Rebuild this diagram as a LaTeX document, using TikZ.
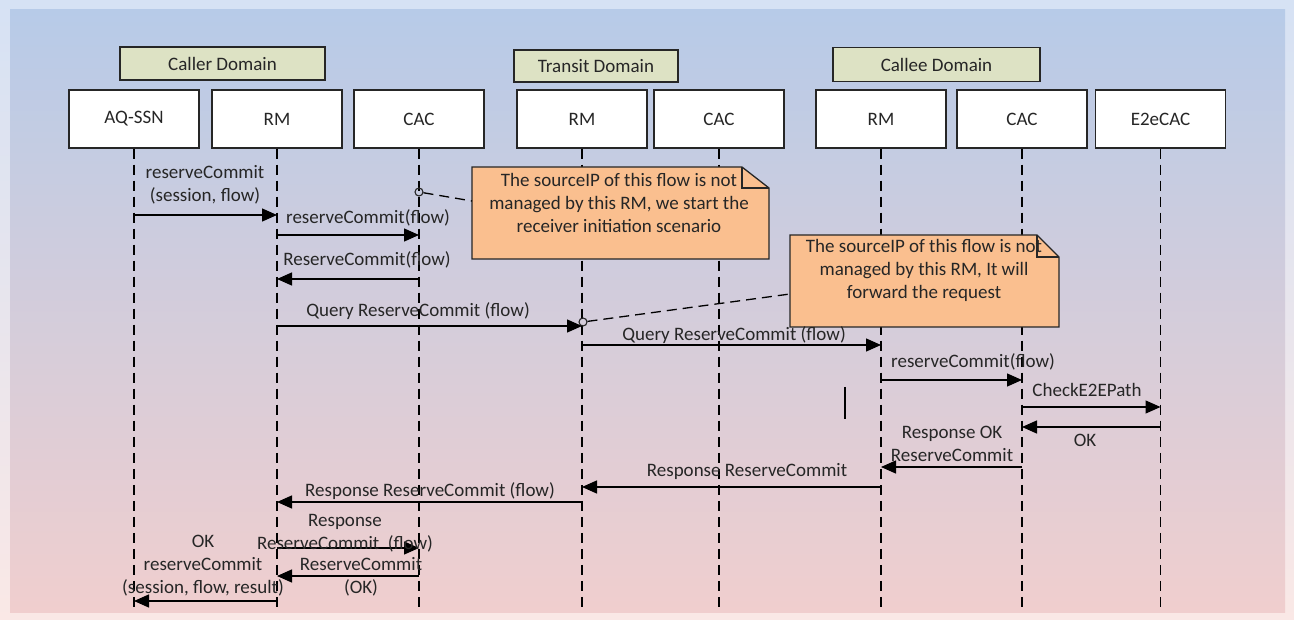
\documentclass[tikz,border=0pt]{standalone}
\usepackage{fontspec}
\setmainfont{Carlito}
\usepackage{tikz}
\usetikzlibrary{
    arrows.meta,
    positioning
}
\definecolor{domainfill}{RGB}{221,226,196}
\definecolor{notefill}{RGB}{250,191,143}
\definecolor{bgtop}{RGB}{183,203,232}
\definecolor{bgmid}{RGB}{210,208,226}
\definecolor{bgbot}{RGB}{240,206,206}
\definecolor{frametop}{RGB}{214,226,244}
\definecolor{framebot}{RGB}{250,232,230}
\tikzset{
    every node/.style={font=\fontsize{19}{23}\selectfont, text=black!85},
    domainbox/.style={draw=black!85, line width=1.5pt, fill=domainfill, inner sep=0pt},
    headbox/.style={draw=black!85, line width=1.5pt, fill=white, minimum width=130pt, minimum height=58pt, inner sep=0pt},
    lifeline/.style={line width=1.4pt, dash pattern=on 10pt off 6pt},
    msg/.style={line width=1.4pt, -{Triangle[length=15pt, width=13pt]}},
    notebox/.style={draw=black!85, line width=1.3pt, fill=notefill, line join=miter},
    pinline/.style={line width=1.3pt, dash pattern=on 10pt off 6pt},
    pin/.style={circle, draw=black!85, line width=1.1pt, inner sep=0pt, minimum size=8pt},
    lbl/.style={align=center, inner sep=0pt}
}

\begin{document}
\begin{tikzpicture}[x=1pt, y=-1pt]
    \useasboundingbox (0,0) rectangle (1294,620);
    % background
    \shade[top color=frametop, bottom color=framebot] (0,0) rectangle (1294,620);
    \shade[top color=bgtop, middle color=bgmid, bottom color=bgbot] (10,10) rectangle (1285,612);

    % domains
    \node[domainbox, minimum width=205pt, minimum height=33pt] (callerdom) at (222.5,63.5) {Caller Domain};
    \node[domainbox, minimum width=164pt, minimum height=32pt] (transitdom) at (596,66) {Transit Domain};
    \node[domainbox, minimum width=207pt, minimum height=34pt] (calleedom) at (936.5,64.5) {Callee Domain};

    % lifeline heads
    \node[headbox] (aqssn) at (134,119) {AQ-SSN};
    \node[headbox] (callerrm) at (277,119) {RM};
    \node[headbox] (callercac) at (419,119) {CAC};
    \node[headbox] (transitrm) at (582,119) {RM};
    \node[headbox] (transitcac) at (719,119) {CAC};
    \node[headbox] (calleerm) at (881,119) {RM};
    \node[headbox] (calleecac) at (1022,119) {CAC};
    \node[headbox] (e2ecac) at (1160.5,119) {E2eCAC};

    \coordinate (bottom) at (0,612);
    \foreach \h in {aqssn, callerrm, callercac, transitrm, transitcac, calleerm, calleecac, e2ecac}
        \draw[lifeline] (\h.south) -- (\h |- bottom);

    % notes
    \coordinate (n1nw) at (472,167);
    \coordinate (n1ne) at (769,167);
    \coordinate (n1se) at (769,259);
    \coordinate (n1sw) at (472,259);
    \filldraw[notebox] (n1sw) -- (n1nw) -- ([xshift=-27pt]n1ne) -- ([yshift=-21pt]n1ne) -- (n1se) -- cycle;
    \draw[notebox, fill=none] ([xshift=-27pt]n1ne) -- ([xshift=-27pt, yshift=-21pt]n1ne) -- ([yshift=-21pt]n1ne);
    \node[lbl] (note1) at (619,203) {The sourceIP of this flow is not\\managed by this RM, we start the\\receiver initiation scenario};

    \coordinate (n2nw) at (790,235);
    \coordinate (n2ne) at (1059,235);
    \coordinate (n2se) at (1059,327);
    \coordinate (n2sw) at (790,327);
    \filldraw[notebox] (n2sw) -- (n2nw) -- ([xshift=-22pt]n2ne) -- ([yshift=-22pt]n2ne) -- (n2se) -- cycle;
    \draw[notebox, fill=none] ([xshift=-22pt]n2ne) -- ([xshift=-22pt, yshift=-22pt]n2ne) -- ([yshift=-22pt]n2ne);
    \node[lbl] (note2) at (924,270) {The sourceIP of this flow is not\\managed by this RM, It will\\forward the request};

    \node[pin] (pin1) at (419,192) {};
    \node[pin] (pin2) at (583,322) {};
    \coordinate (n1pin) at (472,201);
    \coordinate (n2pin) at (790,294);
    \draw[pinline] (pin1) -- (n1pin);
    \draw[pinline] (pin2) -- (n2pin);

    % message rows
    \foreach \y [count=\i] in {215,235,279,326,345,380,407,427,467,487,502,548,576,601}
        \coordinate (r\i) at (0,\y);

    \draw[msg] (aqssn |- r1) -- (callerrm |- r1);
    \draw[msg] (callerrm |- r2) -- (callercac |- r2);
    \draw[msg] (callercac |- r3) -- (callerrm |- r3);
    \draw[msg] (callerrm |- r4) -- (transitrm |- r4);
    \draw[msg] (transitrm |- r5) -- (calleerm |- r5);
    \draw[msg] (calleerm |- r6) -- (calleecac |- r6);
    \draw[msg] (calleecac |- r7) -- (e2ecac |- r7);
    \draw[msg] (e2ecac |- r8) -- (calleecac |- r8);
    \draw[msg] (calleecac |- r9) -- (calleerm |- r9);
    \draw[msg] (calleerm |- r10) -- (transitrm |- r10);
    \draw[msg] (transitrm |- r11) -- (callerrm |- r11);
    \draw[msg] (callerrm |- r12) -- (callercac |- r12);
    \draw[msg] (callercac |- r13) -- (callerrm |- r13);
    \draw[msg] (callerrm |- r14) -- (aqssn |- r14);

    \draw[line width=1.5pt] (845,387) -- (845,419);

    % message labels
    \node[lbl] (lbl1) at (205,185) {reserveCommit\\(session, flow)};
    \node[lbl] (lbl2) at (368,218) {reserveCommit(flow)};
    \node[lbl] (lbl3) at (367,260) {ReserveCommit(flow)};
    \node[lbl] (lbl4) at (418,311) {Query ReserveCommit (flow)};
    \node[lbl] (lbl5) at (734,335) {Query ReserveCommit (flow)};
    \node[lbl] (lbl6) at (973,362) {reserveCommit(flow)};
    \node[lbl] (lbl7) at (1087,390) {CheckE2EPath};
    \node[lbl] (lbl8) at (1085,440) {OK};
    \node[lbl] (lbl9) at (952,444) {Response OK\\ReserveCommit};
    \node[lbl] (lbl10) at (747,471) {Response ReserveCommit};
    \node[lbl] (lbl11) at (430,491) {Response ReserveCommit (flow)};
    \node[lbl] (lbl12) at (345,533) {Response\\ReserveCommit\ \ (flow)};
    \node[lbl] (lbl13) at (361,577) {ReserveCommit\\(OK)};
    \node[lbl] (lbl14) at (203,566) {OK\\reserveCommit\\(session, flow, result)};
\end{tikzpicture}
\end{document}
